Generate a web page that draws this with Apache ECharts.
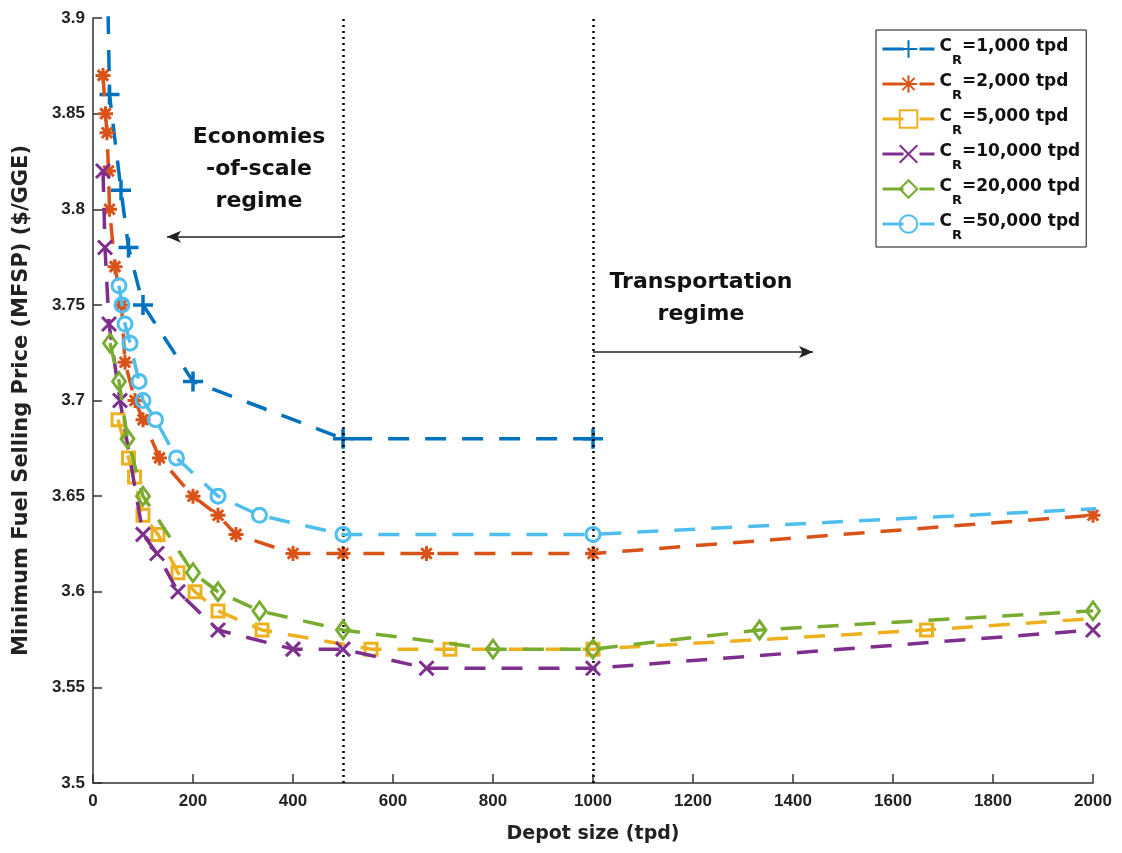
<!DOCTYPE html>
<html>
<head>
<meta charset="utf-8">
<script src="https://cdn.jsdelivr.net/npm/echarts@6/dist/echarts.min.js"></script>
<style>html,body{margin:0;padding:0;background:#fff}#c{width:1122px;height:853px}</style>
</head>
<body>
<div id="c"></div>
<script>
const seriesNames = ['1,000', '2,000', '5,000', '10,000', '20,000', '50,000'];
const cr1000 = [[25,3.98],[33,3.86],[56,3.81],[71,3.78],[100,3.75],[200,3.71],[500,3.68],[1000,3.68]];
const cr2000 = [[20,3.87],[25,3.85],[28,3.84],[31,3.82],[33,3.80],[44,3.77],[57,3.75],[64,3.72],[84,3.70],[100,3.69],[133,3.67],[200,3.65],[250,3.64],[286,3.63],[400,3.62],[500,3.62],[667,3.62],[1000,3.62],[2000,3.64]];
const cr5000 = [[50,3.69],[71,3.67],[83,3.66],[100,3.64],[130,3.63],[170,3.61],[204,3.60],[250,3.59],[338,3.58],[556,3.57],[714,3.57],[1000,3.57],[1667,3.58],[2500,3.595]];
const cr10000 = [[20,3.82],[24,3.78],[32,3.74],[54,3.70],[100,3.63],[128,3.62],[170,3.60],[250,3.58],[400,3.57],[500,3.57],[667,3.56],[1000,3.56],[2000,3.58]];
const cr20000 = [[34,3.73],[52,3.71],[69,3.68],[100,3.65],[200,3.61],[250,3.60],[333,3.59],[500,3.58],[800,3.57],[1000,3.57],[1333,3.58],[2000,3.59]];
const cr50000 = [[52,3.76],[58,3.75],[64,3.74],[74,3.73],[92,3.71],[100,3.70],[125,3.69],[167,3.67],[250,3.65],[333,3.64],[500,3.63],[1000,3.63],[2500,3.65]];
const xTicks = [0,200,400,600,800,1000,1200,1400,1600,1800,2000];
const yTicks = [3.5,3.55,3.6,3.65,3.7,3.75,3.8,3.85,3.9];
const regimeBounds = [500, 1000];

const colors = ['#0072BD','#D95319','#EDB120','#7E2F8E','#77AC30','#4DBEEE'];
const symbols = [
  'path://M10,0 L10,20 M0,10 L20,10',
  'path://M10,0 L10,20 M0,10 L20,10 M3,3 L17,17 M17,3 L3,17',
  'rect',
  'path://M0,0 L20,20 M20,0 L0,20',
  'diamond',
  'circle'
];
const sizes = [[20,20],[15,15],[12,12],[14,14],[13,18],[14,14]];
const allData = [cr1000, cr2000, cr5000, cr10000, cr20000, cr50000];

const chart = echarts.init(document.getElementById('c'));
const font = 'Liberation Sans, Arial, Helvetica, sans-serif';
const wide = 'DejaVu Sans, Verdana, sans-serif';

const series = allData.map((d, i) => ({
  name: seriesNames[i],
  type: 'line',
  data: d,
  clip: true,
  symbol: symbols[i],
  symbolSize: sizes[i],
  lineStyle: { color: colors[i], width: 3.5, type: [21, 16] },
  itemStyle: { color: 'rgba(255,255,255,0)', borderColor: colors[i], borderWidth: i === 0 ? 3.5 : 3 },
  emphasis: { disabled: true },
  z: 3 + i
}));

series.push({
  name: 'bounds',
  type: 'line',
  data: [],
  markLine: {
    silent: true,
    symbol: ['none', 'none'],
    label: { show: false },
    lineStyle: { color: '#000', type: [2, 4], width: 2.5 },
    data: regimeBounds.map(v => ({ xAxis: v }))
  }
});
series.push({
  name: 'arrows',
  type: 'line',
  data: [],
  markLine: {
    silent: true,
    symbol: ['none', 'arrow'],
    symbolSize: [9, 14],
    label: { show: false },
    lineStyle: { color: '#222', type: 'solid', width: 1.5 },
    data: [
      [{ coord: [500, 3.7856] }, { coord: [148, 3.7856] }],
      [{ coord: [1000, 3.7254] }, { coord: [1440, 3.7254] }]
    ]
  }
});

chart.setOption({
  animation: false,
  color: colors,
  grid: { left: 93, right: 29, top: 18, bottom: 70, containLabel: false },
  legend: {
    data: seriesNames,
    orient: 'vertical',
    left: 876, top: 30,
    padding: [8, 6, 5, 5],
    itemGap: 6,
    itemWidth: 52, itemHeight: 22,
    borderColor: '#111', borderWidth: 1,
    backgroundColor: '#fff',
    lineStyle: { width: 3 },
    formatter: n => '{a|C}{s|R}{a|=' + n + ' tpd}',
    textStyle: {
      rich: {
        a: { fontFamily: wide, fontWeight: 'bold', fontSize: 17, color: '#111', verticalAlign: 'top', lineHeight: 22 },
        s: { fontFamily: wide, fontWeight: 'bold', fontSize: 13, color: '#111', verticalAlign: 'bottom', lineHeight: 22, padding: [0, 0, -7, 0] }
      }
    }
  },
  xAxis: {
    type: 'value', min: 0, max: 2000, interval: 200,
    name: 'Depot size (tpd)', nameLocation: 'middle', nameGap: 42,
    nameTextStyle: { fontFamily: wide, fontWeight: 'bold', fontSize: 19, color: '#222' },
    axisLine: { show: true, lineStyle: { color: '#333', width: 1.5 } },
    axisTick: { show: true, inside: true, length: 9, lineStyle: { color: '#333', width: 1.5 } },
    axisLabel: { fontFamily: font, fontWeight: 'bold', fontSize: 17, color: '#222', margin: 10,
      formatter: v => String(v) },
    splitLine: { show: false }
  },
  yAxis: {
    type: 'value', min: 3.5, max: 3.9, interval: 0.05,
    name: 'Minimum Fuel Selling Price (MFSP) ($/GGE)', nameLocation: 'middle', nameGap: 61,
    nameTextStyle: { fontFamily: wide, fontWeight: 'bold', fontSize: 21, color: '#222' },
    axisLine: { show: true, lineStyle: { color: '#333', width: 1.5 } },
    axisTick: { show: true, inside: true, length: 9, lineStyle: { color: '#333', width: 1.5 } },
    axisLabel: { fontFamily: font, fontWeight: 'bold', fontSize: 17, color: '#222', margin: 8,
      formatter: v => String(parseFloat(v.toFixed(2))) },
    splitLine: { show: false }
  },
  graphic: [
    { type: 'text', x: 259, y: 121, style: { text: 'Economies\n-of-scale\nregime', fontFamily: wide, fontWeight: 'bold', fontSize: 22, lineHeight: 32, fill: '#111', align: 'center', verticalAlign: 'top' } },
    { type: 'text', x: 701, y: 266, style: { text: 'Transportation\nregime', fontFamily: wide, fontWeight: 'bold', fontSize: 22, lineHeight: 32, fill: '#111', align: 'center', verticalAlign: 'top' } }
  ],
  series: series
});
</script>
</body>
</html>
